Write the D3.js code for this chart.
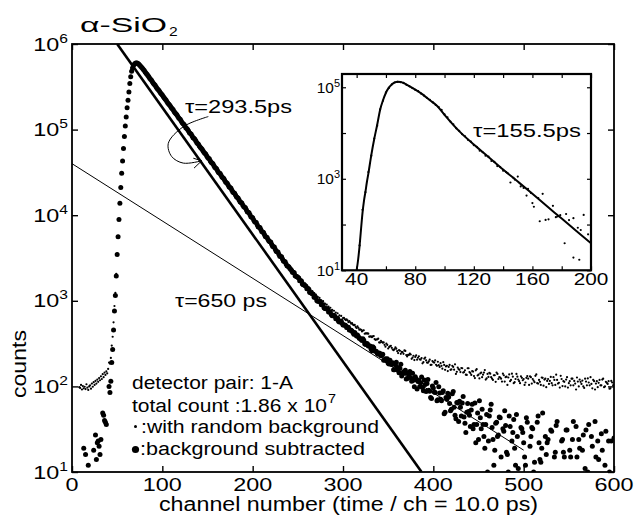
<!DOCTYPE html>
<html>
<head>
<meta charset="utf-8">
<title>alpha-SiO2 lifetime spectrum</title>
<style>
  body { margin: 0; background: #fff; }
  svg text { font-family: "Liberation Sans", Arial, Helvetica, sans-serif; fill: #000; }
</style>
</head>
<body>
<script src="https://d3js.org/d3.v7.min.js"></script>
<script>
// ---- main spectrum, counts per channel ----
// background subtracted (large dots): a few scattered points before the peak
const subPreCh = [13,15,18,24,26,27,28,29,30,31,32,34,35,36,37,38,41,42,43];
const subPreCounts = [19,16,12,18,27,14,22,23,20,16,24,49,46,40,38,36,100,85,115];
// ch 44..77, one per channel (rising edge and peak)
const subPeakStart = 44;
const subPeak = [190,270,457,760,1150,1950,3470,5600,8900,1.38e4,2.1e4,3.1e4,4.3e4,6.0e4,8.3e4,1.1e5,1.4e5,1.8e5,2.2e5,2.75e5,3.45e5,4.15e5,4.8e5,5.25e5,5.6e5,5.8e5,5.95e5,6.0e5,6.0e5,5.9e5,5.8e5,5.65e5,5.5e5,5.35e5];
// ch 78..600, even channels
const tailStart = 78, tailStep = 2;
const subTail = [
  5.2e5,4.9e5,4.55e5,4.3e5,3.98e5,3.76e5,3.49e5,3.3e5,3.05e5,2.89e5,2.68e5,2.53e5,2.35e5,2.21e5,2.05e5,1.94e5,1.8e5,1.7e5,1.57e5,1.49e5,
  1.38e5,1.31e5,1.2e5,1.15e5,1.05e5,1.0e5,9.2e4,8.8e4,8.05e4,7.7e4,7.05e4,6.75e4,6.2e4,5.9e4,5.42e4,5.18e4,4.74e4,4.55e4,4.15e4,3.98e4,
  3.64e4,3.49e4,3.18e4,3.06e4,2.79e4,2.68e4,2.44e4,2.35e4,2.14e4,2.06e4,1.87e4,1.8e4,1.64e4,1.58e4,1.44e4,1.39e4,1.26e4,1.22e4,1.1e4,1.07e4,
  9600,9350,8450,8200,7350,7200,6450,6300,5650,5500,4980,4850,4350,4250,3800,3720,3320,3260,2920,2860,2560,2500,
  2330,2150,2120,1930,1890,1720,1700,1540,1510,1380,1370,1240,1210,1100,1090,990,990,900,900,815,810,740,745,670,680,615,625,565,580,520,
  521,487,492,455,443,406,405,398,365,354,361,316,318,297,296,261,282,260,242,245,228,238,203,206,
  186,202,180,156,179,167,144,181,141,143,122,142,149,115,118,130,93,117,110,97,
  119,87,120,88,72,96,85,68,99,71,85,48,74,83,63,54,87,46,65,39,
  57,64,44,29,63,46,53,32,64,36,24,43,54,26,36,10,45,62,24,18,
  38,27,43,9,30,35,16,45,9,29,19,47,11,5,32,22,12,38,-2,26,
  32,13,5,45,14,19,-1,26,22,5,31,1,15,35,7,-6,23,17,1,31,
  -4,15,24,2,34,6,19,-4,27,11,-1,36,3,20,-9,15,23,5,28,-4,
  12,-2,23,7,-6,25
];
// ch 79..599, odd channels
const oddStart = 79, oddStep = 2;
const subOdd = [
  5.05e5,4.72e5,4.43e5,4.13e5,3.87e5,3.62e5,3.39e5,3.17e5,2.97e5,2.78e5,2.6e5,2.44e5,2.28e5,2.13e5,1.99e5,1.87e5,1.75e5,1.63e5,1.53e5,1.43e5,
  1.34e5,1.25e5,1.17e5,1.1e5,1.03e5,9.6e4,9.0e4,8.4e4,7.9e4,7.4e4,6.9e4,6.45e4,6.05e4,5.65e4,5.3e4,4.95e4,4.63e4,4.33e4,4.06e4,3.8e4,
  3.56e4,3.33e4,3.12e4,2.92e4,2.73e4,2.56e4,2.39e4,2.24e4,2.1e4,1.96e4,1.83e4,1.72e4,1.61e4,1.51e4,1.41e4,1.32e4,1.24e4,1.16e4,1.08e4,1.01e4,
  9450,8850,8300,7750,7250,6800,6350,5950,5580,5200,4900,4580,4280,4000,3750,3500,3290,3080,2880,2700,2530,
  2400,2280,2140,1960,1910,1850,1710,1570,1530,1480,1380,1260,1230,1190,1100,1010,990,965,900,830,810,800,740,690,675,660,620,575,570,548,
  521,516,488,456,453,426,427,388,383,363,343,346,308,315,296,274,290,260,255,238,243,231,202,211,211,
  183,183,189,157,191,154,163,132,148,154,124,138,126,142,99,123,114,100,129,89,105,108,90,74,101,
  86,111,70,84,68,89,50,71,75,52,82,57,42,64,67,45,76,37,50,51,34,62,36,22,49,
  68,32,36,19,47,23,53,33,12,37,26,44,15,32,52,17,10,34,23,41,12,26,1,33,29,
  15,43,3,20,33,10,6,38,22,13,49,2,16,24,-5,30,8,17,39,4,-2,24,15,31,0,
  18,9,39,-7,15,24,3,18,-4,31,10,-1,26,4,39,0,14,-7,18,9,30,-5,10,23,0
];
// with random background (small dots): ch 8..77 one per channel
const rawLowStart = 8;
const rawLow = [98,96,104,92,101,95,99,93,106,97,91,100,103,94,108,99,112,104,116,108,120,113,125,118,131,122,139,128,145,136,150,142,160,190,185,215,
  300,380,560,870,1240,2060,3560,5720,8950,1.4e4,2.12e4,3.1e4,4.33e4,6.02e4,8.3e4,1.11e5,1.4e5,1.81e5,2.2e5,2.76e5,3.44e5,4.16e5,4.79e5,5.26e5,5.6e5,5.81e5,5.94e5,6.0e5,6.0e5,5.9e5,5.79e5,5.66e5,5.5e5,5.34e5];
// ch 78..600, even channels
const rawTail = [
  5.18e5,4.88e5,4.58e5,4.27e5,4.0e5,3.74e5,3.5e5,3.28e5,3.07e5,2.87e5,2.7e5,2.51e5,2.36e5,2.2e5,2.07e5,1.93e5,1.81e5,1.69e5,1.58e5,1.48e5,
  1.39e5,1.3e5,1.21e5,1.14e5,1.06e5,9.95e4,9.3e4,8.7e4,8.15e4,7.63e4,7.14e4,6.68e4,6.26e4,5.86e4,5.48e4,5.13e4,4.8e4,4.5e4,4.2e4,3.94e4,
  3.69e4,3.45e4,3.23e4,3.02e4,2.83e4,2.65e4,2.48e4,2.32e4,2.17e4,2.03e4,1.9e4,1.78e4,1.67e4,1.56e4,1.46e4,1.37e4,1.28e4,1.2e4,1.12e4,1.05e4,
  9900,9300,8700,8150,7600,7150,6700,6300,5900,5500,5200,4850,4550,4250,4000,3750,3500,3300,3100,2900,2720,2550,
  2440,2270,2210,2040,1970,1850,1770,1660,1600,1500,1440,1350,1300,1220,1180,1110,1080,1010,990,925,900,855,830,785,765,730,715,675,665,628,
  612,606,564,561,548,519,496,503,460,458,449,412,416,413,382,375,387,350,355,326,341,324,306,317,
  277,294,282,265,285,258,265,240,251,263,232,233,241,210,228,221,205,225,205,186,
  211,201,189,205,179,192,201,174,177,187,161,178,171,151,178,158,169,181,148,159,
  147,163,147,137,163,147,136,149,125,159,137,142,128,145,120,140,144,128,119,135,
  145,122,127,114,135,128,104,138,119,130,112,140,120,109,126,122,111,132,104,128,
  122,112,138,108,113,127,102,123,116,107,129,103,119,137,108,97,122,115,100,128,
  109,103,123,116,92,114,120,107,100,123,103,111,128,95,115,108,98,119,103,123,
  100,110,115,95,111,104
];
// ch 301..599, odd channels
const rawOddStart = 301;
const rawTailOdd = [
  634,596,590,581,541,527,522,481,484,464,439,453,417,416,381,385,385,357,353,361,325,330,326,291,305,
  288,298,270,272,276,245,261,253,240,260,224,233,236,217,203,230,216,207,214,192,217,190,196,178,198,
  190,179,194,169,174,192,156,174,169,156,174,157,140,166,156,164,145,154,136,163,143,151,132,154,134,
  124,145,137,155,124,129,141,123,135,113,140,128,123,141,114,130,127,115,141,109,122,130,115,131,118,
  104,126,123,131,108,117,133,109,119,104,126,120,98,122,116,109,128,104,119,110,133,101,113,120,97,
  115,123,103,108,127,100,113,117,96,114,124,103,107,119,92,115,110,103,120,98,113,107,94,116,103
];
// fitted components (end points of the straight lines)
const fitShortCh = [50, 387], fitShortCounts = [1e6, 10];     // tau = 293.5 ps
const fitLongCh = [0, 500], fitLongCounts = [4.0e4, 18];       // tau = 650 ps
// curved arrow for the 293.5 ps label (data coordinates)
const arrowCh = [150.9, 123.2, 106.6, 110.4, 123.2, 143.6];
const arrowCounts = [1.42e5, 1.08e5, 6.9e4, 4.84e4, 4.06e4, 4.32e4];
const arrowHeadCh = [134.3, 143.6, 135.1];
const arrowHeadCounts = [4.63e4, 4.32e4, 3.55e4];

// ---- inset ----
const insetFitCh = [40,41,42,43,44,45,46,47,48,50,52,54,56,58,60,62,64,66,68,70,72,75,80,85,90,95,100,110,120,130,140,150,160,170,180,190,200];
const insetFitCounts = [10,17,34,80,180,330,520,850,1300,3300,7400,1.5e4,3.2e4,5.2e4,7.6e4,9.8e4,1.15e5,1.28e5,1.32e5,1.3e5,1.24e5,1.1e5,8.9e4,7.0e4,5.2e4,3.9e4,2.5e4,1.1e4,5600,3000,1600,870,470,250,135,72,39];
const insetPtsStart = 42, insetPtsStep = 2;
const insetPts = [35,210,510,1400,3200,7600,1.45e4,3.3e4,5.1e4,7.7e4,9.7e4,1.16e5,1.27e5,1.31e5,1.29e5,1.25e5,1.13e5,1.05e5,9.6e4,8.8e4,
  8.2e4,7.3e4,6.6e4,5.9e4,5.3e4,4.7e4,4.1e4,3.7e4,3.2e4,2.55e4,2.2e4,1.78e4,1.55e4,1.27e4,1.12e4,9400,8500,7100,6500,5400,
  5000,4100,3800,3200,3050,2450,2350,1900,1800,1500];
const insetTailCh = [142,143,145,147,148,150,152,154,156,157,159,160,161,164,165,167,169,171,174,176,177,179,182,183,185,188,188,191,192,193,195,198,200];
const insetTailCounts = [1400,1320,830,1050,960,1120,680,630,430,600,490,295,245,380,118,470,126,130,257,145,150,160,39,170,125,138,19,85,17,76,162,61,48];

// ---- ticks ----
const xTicks = [0,100,200,300,400,500,600];
const yTicks = [1e1,1e2,1e3,1e4,1e5,1e6];
const insetXTicks = [40,60,80,100,120,140,160,180,200];
const insetXLabels = [40,80,120,160,200];
const insetYTicks = [1e1,1e2,1e3,1e4,1e5];
const insetYLabels = [1e1,1e3,1e5];

const W = 634, H = 523;
const svg = d3.select("body").append("svg").attr("width", W).attr("height", H);

const M = {l: 72, r: 614, t: 44, b: 472};
const x = d3.scaleLinear().domain([0, 600]).range([M.l, M.r]);
const y = d3.scaleLog().domain([10, 1e6]).range([M.b, M.t]);

const I = {l: 342, r: 591, t: 74, b: 270.3};
const ix = d3.scaleLinear().domain([30, 200]).range([I.l, I.r]);
const iy = d3.scaleLog().domain([10, 1.95e5]).range([I.b, I.t]);

function expand(start, step, vals) { return vals.map((v, i) => [start + i * step, v]); }
function pairs(chs, vals) { return chs.map((c, i) => [c, vals[i]]); }

const subPts = pairs(subPreCh, subPreCounts)
  .concat(expand(subPeakStart, 1, subPeak))
  .concat(expand(tailStart, tailStep, subTail))
  .concat(expand(oddStart, oddStep, subOdd))
  .filter(d => d[1] >= 10);
const rawPts = expand(rawLowStart, 1, rawLow)
  .concat(expand(tailStart, tailStep, rawTail))
  .concat(expand(rawOddStart, oddStep, rawTailOdd))
  .filter(d => d[1] >= 10);

function txt(g, px, py, size, sx, anchor) {
  return g.append("text")
    .attr("transform", `translate(${px},${py}) scale(${sx},1)`)
    .attr("font-size", size)
    .attr("text-anchor", anchor || "start");
}
function fitText(g, px, py, size, len, str) {
  return g.append("text").attr("x", px).attr("y", py).attr("font-size", size)
    .attr("textLength", len).attr("lengthAdjust", "spacingAndGlyphs").text(str);
}
function powLabel(g, px, py, size, sx, v, supSize, rise) {
  const t = txt(g, px, py, size, sx, "end");
  t.append("tspan").text("10");
  t.append("tspan").attr("font-size", supSize).attr("dy", -rise).text(Math.round(Math.log10(v)));
}

// ---- main plot ----
svg.append("clipPath").attr("id", "mainClip")
  .append("rect").attr("x", M.l).attr("y", M.t).attr("width", M.r - M.l).attr("height", M.b - M.t);
const plot = svg.append("g").attr("clip-path", "url(#mainClip)");

const line = d3.line().x(d => x(d[0])).y(d => y(d[1]));
plot.append("path").datum(pairs(fitLongCh, fitLongCounts))
  .attr("d", line).attr("fill", "none").attr("stroke", "#000").attr("stroke-width", 1);
plot.append("path").datum(pairs(fitShortCh, fitShortCounts))
  .attr("d", line).attr("fill", "none").attr("stroke", "#000").attr("stroke-width", 2.6);

plot.append("g").selectAll("circle").data(rawPts).join("circle")
  .attr("cx", d => x(d[0])).attr("cy", d => y(d[1])).attr("r", 1.1).attr("fill", "#000");
plot.append("g").selectAll("circle").data(subPts).join("circle")
  .attr("cx", d => x(d[0])).attr("cy", d => y(d[1])).attr("r", 2.5).attr("fill", "#000");

// arrow
svg.append("path").datum(pairs(arrowCh, arrowCounts))
  .attr("d", d3.line().x(d => x(d[0])).y(d => y(d[1])).curve(d3.curveCatmullRom))
  .attr("fill", "none").attr("stroke", "#000").attr("stroke-width", 1);
svg.append("path").datum(pairs(arrowHeadCh, arrowHeadCounts))
  .attr("d", line).attr("fill", "none").attr("stroke", "#000").attr("stroke-width", 1);

// axes (ticks inward)
function tickAxis(gen, tx, ty) {
  const g = svg.append("g").attr("transform", `translate(${tx},${ty})`).call(gen);
  g.select(".domain").remove();
  g.selectAll("line").attr("stroke", "#000").attr("stroke-width", 1.4);
  return g;
}
tickAxis(d3.axisBottom(x).tickValues(xTicks).tickSize(-6).tickFormat(""), 0, M.b);
tickAxis(d3.axisTop(x).tickValues(xTicks).tickSize(-6).tickFormat(""), 0, M.t);
tickAxis(d3.axisLeft(y).tickValues(yTicks).tickSize(-6).tickFormat(""), M.l, 0);
tickAxis(d3.axisRight(y).tickValues(yTicks).tickSize(-6).tickFormat(""), M.r, 0);
svg.append("rect").attr("x", M.l).attr("y", M.t).attr("width", M.r - M.l).attr("height", M.b - M.t)
  .attr("fill", "none").attr("stroke", "#000").attr("stroke-width", 1.8);

xTicks.forEach(v => txt(svg, x(v), 491, 18, 1.3, "middle").text(v));
yTicks.forEach(v => powLabel(svg, 68, y(v) + 6.5, 18, 1.3, v, 12, 8));

fitText(svg, 159, 511, 20, 379, "channel number (time / ch = 10.0 ps)");
svg.append("text").attr("transform", "translate(26,364) rotate(-90)")
  .attr("font-size", 20).attr("text-anchor", "middle")
  .attr("textLength", 68).attr("lengthAdjust", "spacingAndGlyphs").text("counts");

// title
fitText(svg, 80, 32, 21, 87, "\u03b1-SiO");
txt(svg, 169, 36, 12, 1.3, "start").text("2");

// annotations
fitText(svg, 185, 113, 19, 107, "\u03c4=293.5ps");
fitText(svg, 175, 307, 19, 92, "\u03c4=650 ps");

// legend block
fitText(svg, 132, 388.5, 18, 161, "detector pair: 1-A");
fitText(svg, 132, 411.5, 18, 195, "total count :1.86 x 10");
txt(svg, 328, 403, 12, 1.2, "start").text("7");
svg.append("circle").attr("cx", 135.5).attr("cy", 426.5).attr("r", 1.5).attr("fill", "#000");
fitText(svg, 141, 433, 18, 238, ":with random background");
svg.append("circle").attr("cx", 135.5).attr("cy", 449.5).attr("r", 3.6).attr("fill", "#000");
fitText(svg, 140, 455, 18, 225, ":background subtracted");

// ---- inset ----
const inset = svg.append("g");
inset.append("rect").attr("x", I.l).attr("y", I.t).attr("width", I.r - I.l).attr("height", I.b - I.t)
  .attr("fill", "#fff");
svg.append("clipPath").attr("id", "insetClip")
  .append("rect").attr("x", I.l).attr("y", I.t).attr("width", I.r - I.l).attr("height", I.b - I.t);
const ip = inset.append("g").attr("clip-path", "url(#insetClip)");
const iline = d3.line().x(d => ix(d[0])).y(d => iy(d[1])).curve(d3.curveMonotoneX);
const insetDots = expand(insetPtsStart, insetPtsStep, insetPts).concat(pairs(insetTailCh, insetTailCounts));
ip.append("g").selectAll("circle").data(insetDots).join("circle")
  .attr("cx", d => ix(d[0])).attr("cy", d => iy(d[1])).attr("r", 1.1).attr("fill", "#000");
ip.append("path").datum(pairs(insetFitCh, insetFitCounts))
  .attr("d", iline).attr("fill", "none").attr("stroke", "#000").attr("stroke-width", 2);

function insetAxis(gen, tx, ty) {
  const g = inset.append("g").attr("transform", `translate(${tx},${ty})`).call(gen);
  g.select(".domain").remove();
  g.selectAll("line").attr("stroke", "#000").attr("stroke-width", 1.2);
}
insetAxis(d3.axisBottom(ix).tickValues(insetXTicks).tickSize(-4).tickFormat(""), 0, I.b);
insetAxis(d3.axisTop(ix).tickValues(insetXTicks).tickSize(-4).tickFormat(""), 0, I.t);
insetAxis(d3.axisLeft(iy).tickValues(insetYTicks).tickSize(-4).tickFormat(""), I.l, 0);
insetAxis(d3.axisRight(iy).tickValues(insetYTicks).tickSize(-4).tickFormat(""), I.r, 0);
inset.append("rect").attr("x", I.l).attr("y", I.t).attr("width", I.r - I.l).attr("height", I.b - I.t)
  .attr("fill", "none").attr("stroke", "#000").attr("stroke-width", 2.2);

insetXLabels.forEach(v => txt(inset, ix(v), 285, 16, 1.3, "middle").text(v));
insetYLabels.forEach(v => powLabel(inset, 340, iy(v) + 5.5, 14, 1.1, v, 10, 6));
fitText(inset, 473, 136.5, 18, 108, "\u03c4=155.5ps");
</script>
</body>
</html>
